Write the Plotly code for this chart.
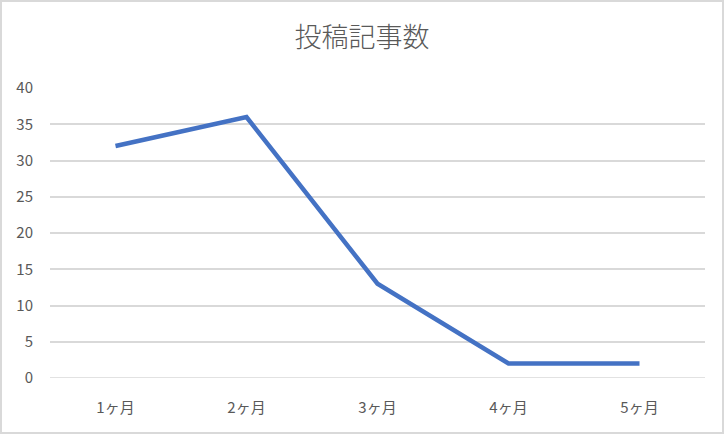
import plotly.graph_objects as go

categories = ["1ヶ月", "2ヶ月", "3ヶ月", "4ヶ月", "5ヶ月"]
values = [32, 36, 13, 2, 2]
y_ticks = [0, 5, 10, 15, 20, 25, 30, 35, 40]
title_text = "投稿記事数"

W, H = 724, 434
L, R, T, B = 50, 19, 88, 56
pw, ph = W - L - R, H - T - B

def px_x(p):
    return (p - L) / pw

def px_y(p):
    return (H - B - p) / ph

fig = go.Figure()
fig.add_trace(go.Scatter(
    x=categories, y=values, mode="lines",
    line=dict(color="#4472C4", width=4.5),
    hoverinfo="x+y",
))

fig.update_layout(
    width=W, height=H,
    margin=dict(l=L, r=R, t=T, b=B, autoexpand=False),
    paper_bgcolor="white", plot_bgcolor="white",
    showlegend=False,
    font=dict(family="Noto Sans CJK JP, Noto Sans, sans-serif", color="#595959", size=15),
    title=dict(text=title_text, x=0.5, xanchor="center", y=1 - 38 / H, yanchor="middle",
               font=dict(size=27, color="#595959", weight=300)),
    xaxis=dict(type="category", range=[-0.5, 4.5], showgrid=False, zeroline=False,
               showline=False, ticks="", ticklabelstandoff=19,
               tickfont=dict(size=15, color="#595959")),
    yaxis=dict(range=[0, 40], tickvals=y_ticks, showgrid=True, gridcolor="#D9D9D9",
               gridwidth=1.5, zeroline=False, showline=False, ticks="",
               ticklabelstandoff=16, tickfont=dict(size=15, color="#595959")),
    shapes=[dict(type="line", xref="paper", yref="y", x0=0, x1=1, y0=0, y1=0,
                 line=dict(color="#D9D9D9", width=1.5), layer="below"),
            dict(type="rect", xref="paper", yref="paper",
                 x0=px_x(1), x1=px_x(723), y0=px_y(1), y1=px_y(433),
                 line=dict(color="#D9D9D9", width=2), fillcolor="rgba(0,0,0,0)")],
)

fig.write_html("out.html", config={"displayModeBar": False},
               post_script="document.body.style.margin='0';document.body.style.overflow='hidden';")
